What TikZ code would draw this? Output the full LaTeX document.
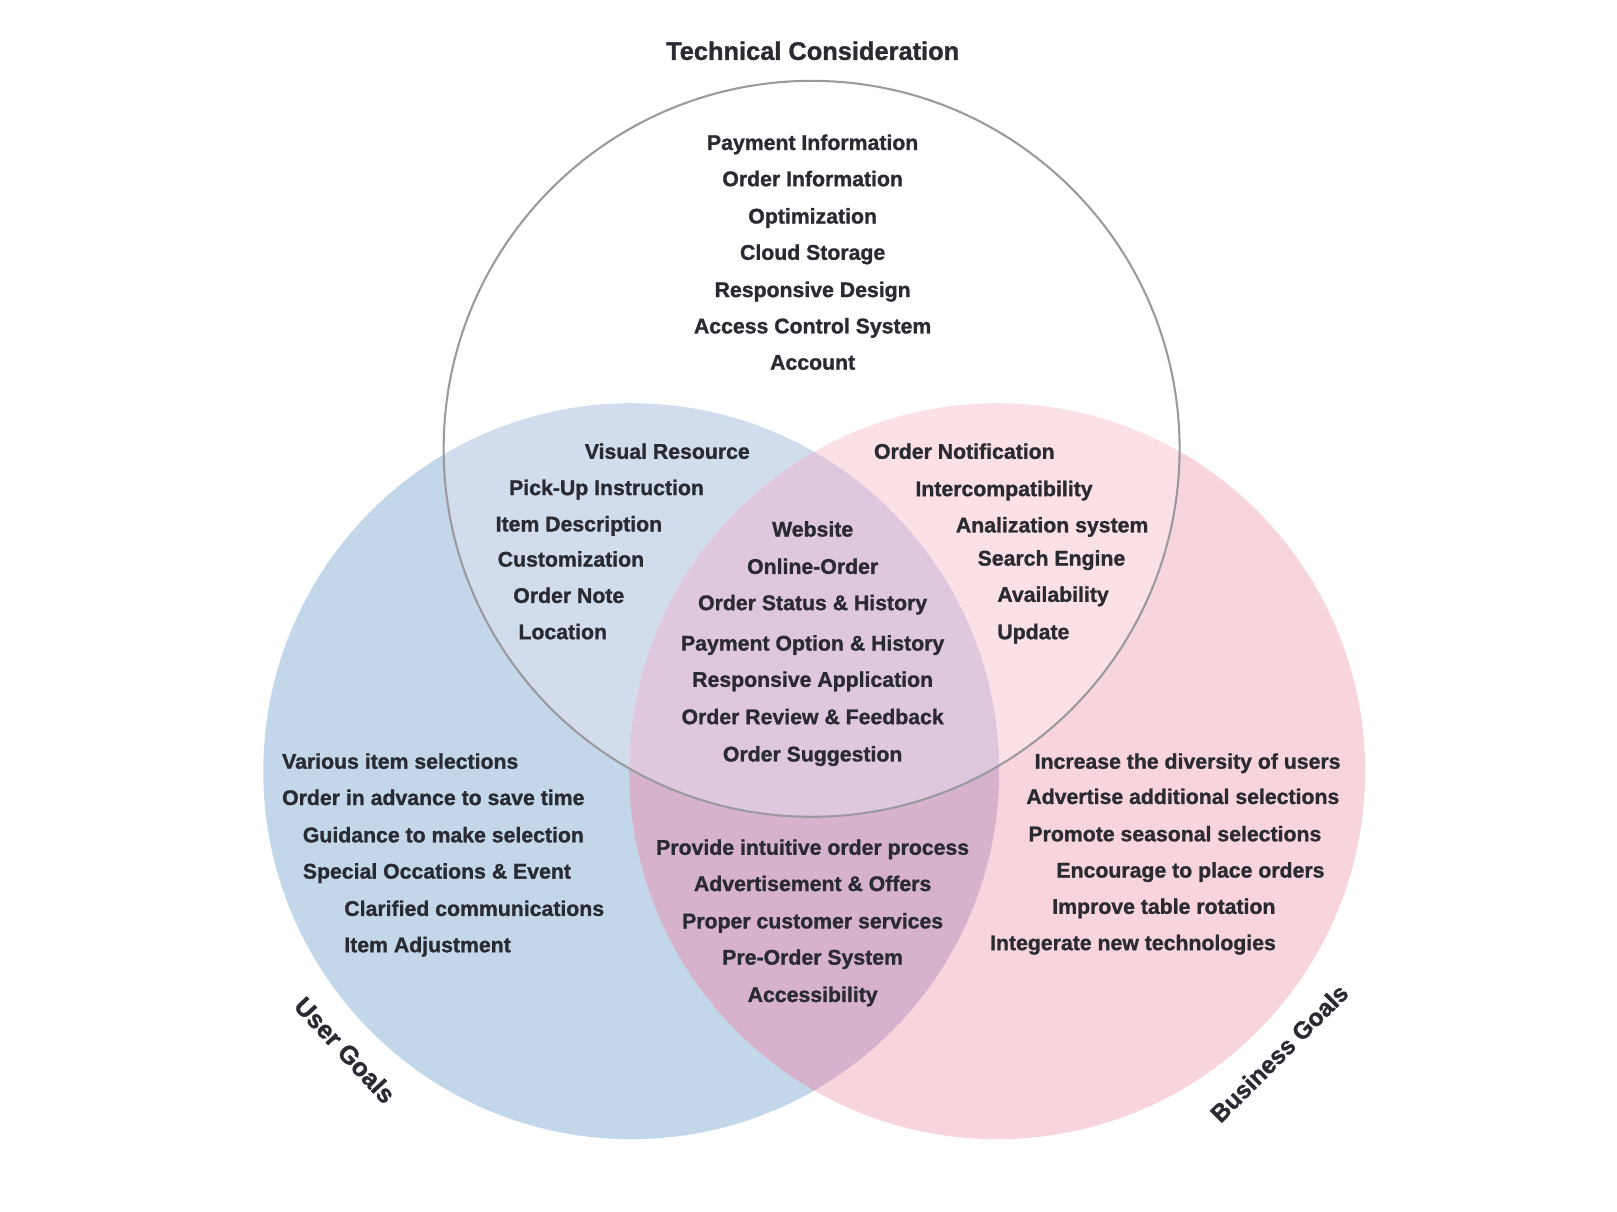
\documentclass[tikz,border=0pt]{standalone}
\usepackage{fontspec}
\setmainfont[BoldFeatures={FakeBold=1.2}]{Liberation Sans}
\definecolor{blueC}{HTML}{C3D7EB}
\definecolor{pinkC}{HTML}{F8D5DD}
\definecolor{purpC}{HTML}{D6B2CC}
\definecolor{tbC}{HTML}{D1DCEC}
\definecolor{tpC}{HTML}{FBE1E6}
\definecolor{tbpC}{HTML}{DFC8DE}
\definecolor{ringC}{HTML}{9A9A9E}
\definecolor{txt}{HTML}{2A2A33}
\begin{document}
\begin{tikzpicture}[x=1pt,y=-1pt,
  lbl/.style={font=\bfseries\fontsize{20.5}{24}\selectfont, text=txt, inner sep=0pt, yshift=-4pt},
  cl/.style={lbl, anchor=mid},
  wl/.style={lbl, anchor=mid west},
  ttl/.style={font=\bfseries\fontsize{24.5}{28}\selectfont, text=txt, inner sep=0pt}]
\useasboundingbox (0,0) rectangle (1560,1169);
\fill[white] (0,0) rectangle (1560,1169);
% circles
\coordinate (cT) at (783,433);
\coordinate (cL) at (609,744);
\coordinate (cR) at (962,744);
\fill[blueC] (cL) circle[radius=355];
\fill[pinkC] (cR) circle[radius=355];
\begin{scope}
  \clip (cL) circle[radius=355];
  \fill[purpC] (cR) circle[radius=355];
\end{scope}
\begin{scope}
  \clip (cT) circle[radius=355];
  \fill[white] (cT) circle[radius=355];
  \fill[tbC] (cL) circle[radius=355];
  \fill[tpC] (cR) circle[radius=355];
  \clip (cL) circle[radius=355];
  \fill[tbpC] (cR) circle[radius=355];
\end{scope}
\draw[ringC, line width=2pt] (cT) circle[radius=355];
% title
\node[ttl] (title) at (784,49) {Technical Consideration};
% top only
\node[cl] (t1) at (784,138) {Payment Information};
\node[cl] (t2) at (784,173) {Order Information};
\node[cl] (t3) at (784,209) {Optimization};
\node[cl] (t4) at (784,244) {Cloud Storage};
\node[cl] (t5) at (784,280) {Responsive Design};
\node[cl] (t6) at (784,315) {Access Control System};
\node[cl] (t7) at (784,350) {Account};
% top & user
\node[wl] (tu1) at (564,436) {Visual Resource};
\node[wl] (tu2) at (491,471) {Pick-Up Instruction};
\node[wl] (tu3) at (478,506) {Item Description};
\node[wl] (tu4) at (480,540) {Customization};
\node[wl] (tu5) at (495,575) {Order Note};
\node[wl] (tu6) at (500,610) {Location};
% top & business
\node[wl] (tb1) at (843,436) {Order Notification};
\node[wl] (tb2) at (883,472) {Intercompatibility};
\node[wl] (tb3) at (922,507) {Analization system};
\node[wl] (tb4) at (943,539) {Search Engine};
\node[wl] (tb5) at (962,574) {Availability};
\node[wl] (tb6) at (962,610) {Update};
% all three
\node[cl] (a1) at (784,511) {Website};
\node[cl] (a2) at (784,547) {Online-Order};
\node[cl] (a3) at (784,582) {Order Status \& History};
\node[cl] (a4) at (784,621) {Payment Option \& History};
\node[cl] (a5) at (784,656) {Responsive Application};
\node[cl] (a6) at (784,692) {Order Review \& Feedback};
\node[cl] (a7) at (784,728) {Order Suggestion};
% user only
\node[wl] (u1) at (272,735) {Various item selections};
\node[wl] (u2) at (272,770) {Order in advance to save time};
\node[wl] (u3) at (292,806) {Guidance to make selection};
\node[wl] (u4) at (292,841) {Special Occations \& Event};
\node[wl] (u5) at (332,877) {Clarified communications};
\node[wl] (u6) at (332,912) {Item Adjustment};
% business only
\node[wl] (b1) at (998,735) {Increase the diversity of users};
\node[wl] (b2) at (990,769) {Advertise additional selections};
\node[wl] (b3) at (992,805) {Promote seasonal selections};
\node[wl] (b4) at (1019,840) {Encourage to place orders};
\node[wl] (b5) at (1015,875) {Improve table rotation};
\node[wl] (b6) at (955,910) {Integerate new technologies};
% user & business
\node[cl] (ub1) at (784,818) {Provide intuitive order process};
\node[cl] (ub2) at (784,853) {Advertisement \& Offers};
\node[cl] (ub3) at (784,889) {Proper customer services};
\node[cl] (ub4) at (784,924) {Pre-Order System};
\node[cl] (ub5) at (784,960) {Accessibility};
% circle labels
\node[ttl, rotate=-47] (ug) at (333,1013) {User Goals};
\node[ttl, rotate=45, font=\bfseries\fontsize{23.5}{28}\selectfont] (bg) at (1234,1016) {Business Goals};
\end{tikzpicture}
\end{document}
